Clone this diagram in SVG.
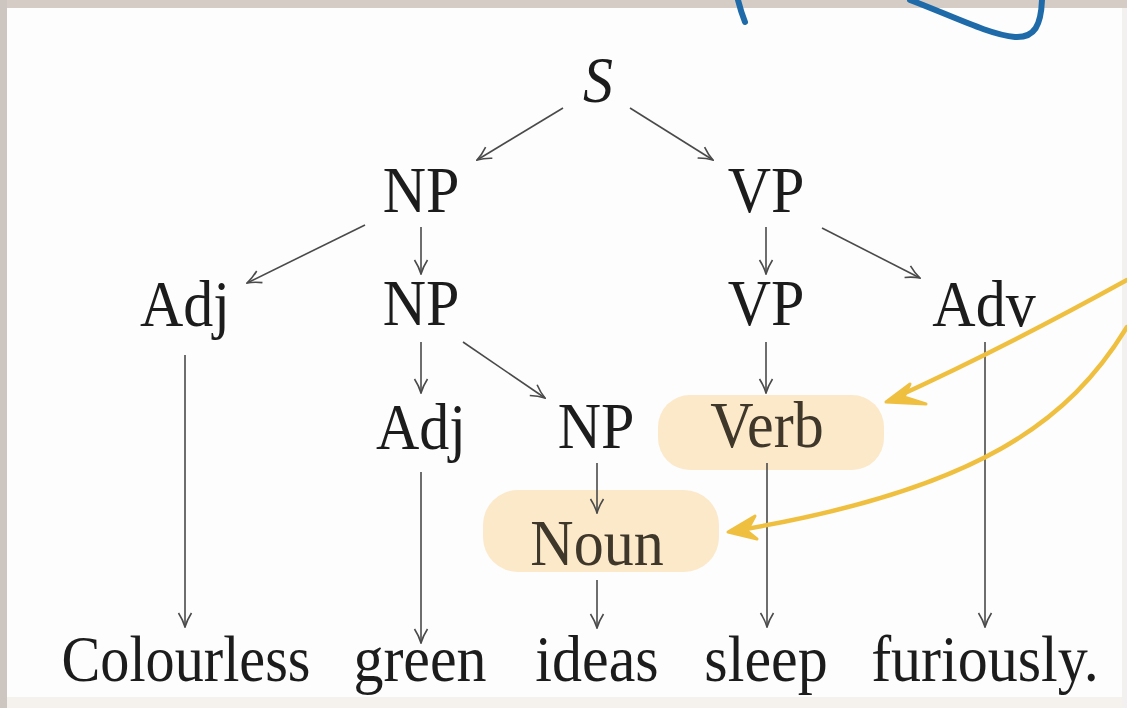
<svg xmlns="http://www.w3.org/2000/svg" width="1127" height="708" viewBox="0 0 1127 708">
<style>
.t{font-family:"Liberation Serif","Times New Roman",serif;font-size:60px;fill:#1c1c1c;text-anchor:middle}
.hl{fill:#3f372a}
.c line{stroke:#4a4a4a;stroke-width:1.6;marker-end:url(#ah)}
.box{fill:#fbe9c9}
.y{fill:none;stroke:#efbf3f;stroke-width:4.5;stroke-linecap:round}
.yh{fill:#efbf3f;stroke:#efbf3f;stroke-width:3;stroke-linecap:round;stroke-linejoin:round}
.b{fill:none;stroke:#1f6aa8;stroke-width:6;stroke-linecap:round}
</style>
<defs>
<marker id="ah" viewBox="0 0 16 16" refX="15" refY="8" markerWidth="16" markerHeight="16" markerUnits="userSpaceOnUse" orient="auto">
<path d="M1,1.5 Q8,6 15,8 Q8,10 1,14.5" fill="none" stroke="#4a4a4a" stroke-width="1.6"/>
</marker>
</defs>
<rect width="1127" height="708" fill="#fdfdfd"/>
<rect x="0" y="697" width="1127" height="11" fill="#f5f2ee"/>
<rect x="1122" y="0" width="5" height="708" fill="#f3f1ef"/>
<rect x="0" y="0" width="1127" height="8" fill="#d5cdc5"/>
<rect x="0" y="0" width="7" height="708" fill="#cdc6c0"/>
<g id="blue-scribble">
<path class="b" d="M738,0 Q741,12 745,22"/>
<path class="b" d="M910,0 C950,15 990,35 1015,37 C1035,38 1041,25 1042,0"/>
</g>
<g id="highlights">
<rect class="box" x="658" y="395" width="226" height="75" rx="32"/>
<rect class="box" x="483" y="490" width="236" height="82" rx="35"/>
</g>
<g id="connectors" class="c">
<line x1="563" y1="108" x2="477" y2="160"/>
<line x1="630" y1="108" x2="713" y2="160"/>
<line x1="365" y1="225" x2="247" y2="283"/>
<line x1="421" y1="227" x2="421" y2="274"/>
<line x1="766" y1="227" x2="766" y2="274"/>
<line x1="822" y1="228" x2="920" y2="278"/>
<line x1="421" y1="342" x2="421" y2="393"/>
<line x1="463" y1="342" x2="545" y2="398"/>
<line x1="766" y1="342" x2="766" y2="393"/>
<line x1="185" y1="355" x2="185" y2="627"/>
<line x1="985" y1="342" x2="985" y2="627"/>
<line x1="421" y1="472" x2="421" y2="643"/>
<line x1="597" y1="463" x2="597" y2="513"/>
<line x1="767" y1="463" x2="767" y2="627"/>
<line x1="597" y1="580" x2="597" y2="628"/>
</g>
<g id="n-S"><text class="t" transform="translate(598 102) scale(1 1.08)" font-style="italic">S</text></g>
<g id="n-NP1"><text class="t" transform="translate(421 212) scale(1 1.08)">NP</text></g>
<g id="n-VP1"><text class="t" transform="translate(766 212) scale(1 1.08)">VP</text></g>
<g id="n-Adj1"><text class="t" transform="translate(185 326) scale(1 1.08)">Adj</text></g>
<g id="n-NP2"><text class="t" transform="translate(421 325) scale(1 1.08)">NP</text></g>
<g id="n-VP2"><text class="t" transform="translate(766 325) scale(1 1.08)">VP</text></g>
<g id="n-Adv"><text class="t" transform="translate(984 326) scale(1 1.08)">Adv</text></g>
<g id="n-Adj2"><text class="t" transform="translate(421 449) scale(1 1.08)">Adj</text></g>
<g id="n-NP3"><text class="t" transform="translate(596 448) scale(1 1.08)">NP</text></g>
<g id="n-Verb"><text class="t hl" transform="translate(767 447) scale(1 1.08)">Verb</text></g>
<g id="n-Noun"><text class="t hl" transform="translate(597 565) scale(1 1.08)">Noun</text></g>
<g id="n-Colourless"><text class="t" transform="translate(186 681) scale(1 1.08)" textLength="249" lengthAdjust="spacingAndGlyphs">Colourless</text></g>
<g id="n-green"><text class="t" transform="translate(420 681) scale(1 1.08)">green</text></g>
<g id="n-ideas"><text class="t" transform="translate(597 681) scale(1 1.08)">ideas</text></g>
<g id="n-sleep"><text class="t" transform="translate(766 681) scale(1 1.08)">sleep</text></g>
<g id="n-furiously"><text class="t" transform="translate(985 681) scale(1 1.08)">furiously.</text></g>
<g id="yellow-arrows">
<path class="y" d="M1127,280 Q1000,350 892,399"/>
<path class="yh" d="M886,402 L910,384 L904,397 L926,404 Z"/>
<path class="y" d="M1127,327 C1070,420 980,490 734,531"/>
<path class="yh" d="M728,532 L755,516 L747,531 L757,539 Z"/>
</g>
</svg>
